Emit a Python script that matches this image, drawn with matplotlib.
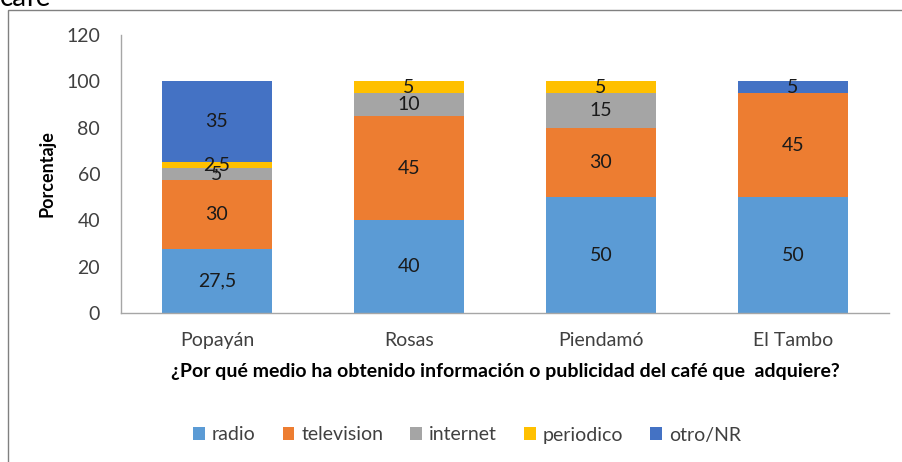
import numpy as np
import matplotlib
matplotlib.use("Agg")
import matplotlib.pyplot as plt
from matplotlib.patches import Rectangle

plt.rcParams['font.family'] = ['Lato', 'DejaVu Sans']

# -------------------- Data --------------------
categories = ['Popayán', 'Rosas', 'Piendamó', 'El Tambo']
series_names = ['radio', 'television', 'internet', 'periodico', 'otro/NR']
radio = [27.5, 40, 50, 50]
television = [30, 45, 30, 45]
internet = [5, 10, 15, 0]
periodico = [2.5, 5, 5, 0]
otro = [35, 0, 0, 5]
colors = ['#5B9BD5', '#ED7D31', '#A5A5A5', '#FFC000', '#4472C4']

xlabel = '¿Por qué medio ha obtenido información o publicidad del café que  adquiere?'
ylabel = 'Porcentaje'
yticks = [0, 20, 40, 60, 80, 100, 120]

# -------------------- Figure --------------------
fig = plt.figure(figsize=(9.02, 4.62), dpi=100)
ax = fig.add_axes([121 / 902, 1 - 313 / 462, (889 - 121) / 902, (313 - 35) / 462])

x = np.arange(len(categories))
bottom = np.zeros(len(categories))
for name, vals, col in zip(series_names, [radio, television, internet, periodico, otro], colors):
    vals = np.array(vals, dtype=float)
    ax.bar(x, vals, width=0.57, bottom=bottom, color=col, label=name)
    for xi, b, v in zip(x, bottom, vals):
        if v > 0:
            txt = ('%g' % v).replace('.', ',')
            ax.text(xi, b + v / 2, txt, ha='center', va='center',
                    fontsize=14, color='#1a1a1a')
    bottom += vals

ax.set_xlim(-0.5, len(categories) - 0.5)
ax.set_ylim(0, 120)
ax.set_yticks(yticks)
ax.set_xticks(x)
ax.set_xticklabels(categories)
ax.tick_params(length=0, labelsize=14, colors='#404040')
ax.tick_params(axis='x', pad=14)
ax.tick_params(axis='y', pad=15)
for side in ['top', 'right']:
    ax.spines[side].set_visible(False)
for side in ['left', 'bottom']:
    ax.spines[side].set_color('#A6A6A6')
    ax.spines[side].set_linewidth(1)

ax.set_xlabel(xlabel, fontsize=14, fontweight='bold', labelpad=10)
ax.set_ylabel(ylabel, fontsize=13, fontweight='bold', labelpad=8)

fig.legend(loc='center', bbox_to_anchor=(467 / 902, 1 - 435 / 462), ncol=5,
           frameon=False, fontsize=14, handlelength=0.6, handleheight=0.6,
           handletextpad=0.35, columnspacing=1.4, labelcolor='#404040')

# outer border of the chart area and cut-off title
fig.add_artist(Rectangle((8 / 902, -0.1), 1.2, 1.1 - 10 / 462, transform=fig.transFigure,
                         fill=False, edgecolor='#808080', linewidth=1))
fig.text(0.0, 1 - 6 / 462, 'café', fontsize=20, color='#000000', ha='left', va='baseline')

fig.savefig('out.png', dpi=100)
